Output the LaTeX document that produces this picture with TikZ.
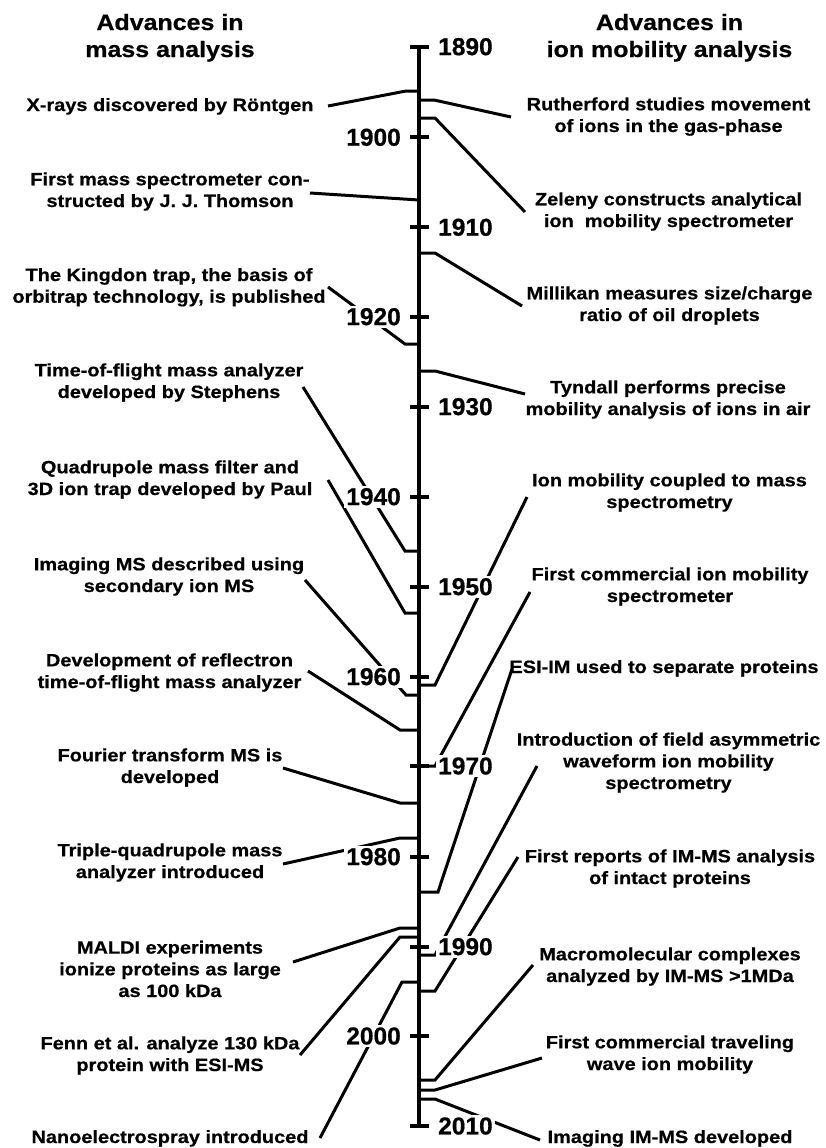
\documentclass[tikz,border=0pt]{standalone}
\usepackage{fontspec}
\newfontfamily\bodyfont{Liberation Sans}[FakeStretch=1.12,BoldFeatures={FakeBold=0.6}]
\newfontfamily\yearfont{Liberation Sans}[BoldFeatures={FakeBold=0.6}]
\begin{document}
\begin{tikzpicture}[x=1pt,y=-1pt,
  evt/.style={font=\bodyfont\bfseries\fontsize{17.8}{21.7}\selectfont, align=center, anchor=base, inner sep=0pt},
  hdr/.style={font=\bodyfont\bfseries\fontsize{22.3}{27}\selectfont, align=center, anchor=base, inner sep=0pt},
  yr/.style={font=\yearfont\bfseries\fontsize{24.5}{24.5}\selectfont, fill=white, inner sep=2.5pt},
  yrR/.style={yr, anchor=west},
  yrL/.style={yr, anchor=east},
  leader/.style={line width=3pt},
  axisline/.style={line width=3.3pt},
  ticker/.style={line width=4.2pt}]
\fill[white] (0,0) rectangle (825,1148);
\useasboundingbox (0,0) rectangle (825,1148);

% headers (anchor = baseline of last line)
\node[hdr] (hL) at (170,57) {Advances in\\mass analysis};
\node[hdr] (hR) at (669.5,57) {Advances in\\ion mobility analysis};

% left events
\node[evt] (tL1) at (170,111) {X-rays discovered by Röntgen};
\node[evt] (tL2) at (170,207) {First mass spectrometer con-\\structed by J. J. Thomson};
\node[evt] (tL3) at (169,302.7) {The Kingdon trap, the basis of\\orbitrap technology, is published};
\node[evt] (tL4) at (169,398) {Time-of-flight mass analyzer\\developed by Stephens};
\node[evt] (tL5) at (170,495) {Quadrupole mass filter and\\3D ion trap developed by Paul};
\node[evt] (tL6) at (169,592) {Imaging MS described using\\secondary ion MS};
\node[evt] (tL7) at (169.5,688) {Development of reflectron\\time-of-flight mass analyzer};
\node[evt] (tL8) at (170,783) {Fourier transform MS is\\developed};
\node[evt] (tL9) at (170,878) {Triple-quadrupole mass\\analyzer introduced};
\node[evt] (tL10) at (170,997) {MALDI experiments\\ionize proteins as large\\as 100 kDa};
\node[evt] (tL11) at (170,1071) {Fenn et al. analyze 130 kDa\\protein with ESI-MS};
\node[evt] (tL12) at (170,1143) {Nanoelectrospray introduced};

% right events
\node[evt] (tR1) at (668.5,132) {Rutherford studies movement\\of ions in the gas-phase};
\node[evt] (tR2) at (668.5,227) {Zeleny constructs analytical\\ion\ \ mobility spectrometer};
\node[evt] (tR3) at (669.5,321) {Millikan measures size/charge\\ratio of oil droplets};
\node[evt] (tR4) at (668,415) {Tyndall performs precise\\mobility analysis of ions in air};
\node[evt] (tR5) at (669.5,508) {Ion mobility coupled to mass\\spectrometry};
\node[evt] (tR6) at (670,602) {First commercial ion mobility\\spectrometer};
\node[evt] (tR7) at (664,673) {ESI-IM used to separate proteins};
\node[evt] (tR8) at (668.5,789) {Introduction of field asymmetric\\waveform ion mobility\\spectrometry};
\node[evt] (tR9) at (670,884) {First reports of IM-MS analysis\\of intact proteins};
\node[evt] (tR10) at (670,982) {Macromolecular complexes\\analyzed by IM-MS >1MDa};
\node[evt] (tR11) at (670,1070) {First commercial traveling\\wave ion mobility};
\node[evt] (tR12) at (670,1143) {Imaging IM-MS developed};

% leader end points
\coordinate (eL1) at (328,106);   \coordinate (aL1) at (419,91);
\coordinate (eL2) at (310,193);   \coordinate (aL2) at (419,200);
\coordinate (eL3) at (328,287);   \coordinate (aL3) at (419,344);
\coordinate (eL4) at (303,387);   \coordinate (aL4) at (419,551);
\coordinate (eL5) at (328,480);   \coordinate (aL5) at (419,613);
\coordinate (eL6) at (305,580);   \coordinate (aL6) at (419,695);
\coordinate (eL7) at (308,671);   \coordinate (aL7) at (419,730);
\coordinate (eL8) at (283,768);   \coordinate (aL8) at (419,803);
\coordinate (eL9) at (283,864);   \coordinate (aL9) at (419,838);
\coordinate (eL10) at (293,962);  \coordinate (aL10) at (419,928);
\coordinate (eL11) at (300,1055); \coordinate (aL11) at (419,937);
\coordinate (eL12) at (320,1138); \coordinate (aL12) at (419,982);

\coordinate (eR1) at (511,117);   \coordinate (aR1) at (419,100);
\coordinate (eR2) at (525,212);   \coordinate (aR2) at (419,118);
\coordinate (eR3) at (522,306);   \coordinate (aR3) at (419,253);
\coordinate (eR4) at (525,394);   \coordinate (aR4) at (419,371);
\coordinate (eR5) at (527,497);   \coordinate (aR5) at (419,685);
\coordinate (eR6) at (530,592);   \coordinate (aR6) at (419,766);
\coordinate (eR7) at (512,669);   \coordinate (aR7) at (419,892);
\coordinate (eR8) at (537,766);   \coordinate (aR8) at (419,955);
\coordinate (eR9) at (518,857);   \coordinate (aR9) at (419,991);
\coordinate (eR10) at (533,965);  \coordinate (aR10) at (419,1080);
\coordinate (eR11) at (542,1058); \coordinate (aR11) at (419,1090);
\coordinate (eR12) at (540,1140); \coordinate (aR12) at (419,1099);

% left leaders
\draw[leader] (eL1) -- (406,91) -- (aL1);
\draw[leader] (eL2) -- (aL2);
\draw[leader] (eL3) -- (405,344) -- (aL3);
\draw[leader] (eL4) -- (405,551) -- (aL4);
\draw[leader] (eL5) -- (405,613) -- (aL5);
\draw[leader] (eL6) -- (406,695) -- (aL6);
\draw[leader] (eL7) -- (400,730) -- (aL7);
\draw[leader] (eL8) -- (400,803) -- (aL8);
\draw[leader] (eL9) -- (400,838) -- (aL9);
\draw[leader] (eL10) -- (400,928) -- (aL10);
\draw[leader] (eL11) -- (400,937) -- (aL11);
\draw[leader] (eL12) -- (402,982) -- (aL12);

% right leaders
\draw[leader] (aR1) -- (434,100) -- (eR1);
\draw[leader] (aR2) -- (435,118) -- (eR2);
\draw[leader] (aR3) -- (435,253) -- (eR3);
\draw[leader] (aR4) -- (435,371) -- (eR4);
\draw[leader] (aR5) -- (435,685) -- (eR5);
\draw[leader] (aR6) -- (435,766) -- (eR6);
\draw[leader] (aR7) -- (438,892) -- (eR7);
\draw[leader] (aR8) -- (435,955) -- (eR8);
\draw[leader] (aR9) -- (435,991) -- (eR9);
\draw[leader] (aR10) -- (435,1080) -- (eR10);
\draw[leader] (aR11) -- (435,1090) -- (eR11);
\draw[leader] (aR12) -- (435,1099) -- (eR12);

% year labels
\foreach \yy/\ty in {1890/46.7,1910/227.3,1930/406.7,1950/586.7,1970/766,1990/946.7,2010/1126}
  \node[yrR] (y\yy) at (435.5,\ty) {\yy};
\foreach \yy/\ty in {1900/137.3,1920/316.7,1940/496.7,1960/676.7,1980/856.7,2000/1036}
  \node[yrL] (y\yy) at (403.5,\ty) {\yy};

% axis and ticks
\coordinate (axTop) at (419,46.7);
\coordinate (axBot) at (419,1126);
\draw[axisline] (axTop) -- (axBot);
\foreach \ty in {46.7,137.3,227.3,316.7,406.7,496.7,586.7,676.7,766,856.7,946.7,1036,1126}
  \draw[ticker] (410,\ty) -- (429,\ty);
\end{tikzpicture}
\end{document}
